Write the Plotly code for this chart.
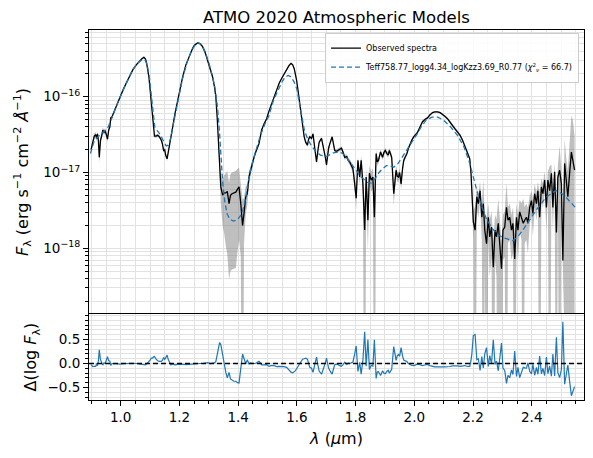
import numpy as np
import plotly.graph_objects as go

# ---------------- data ----------------
wl_obs = [0.899, 0.905, 0.910, 0.915, 0.918, 0.921, 0.924, 0.927, 0.931, 0.935,
          0.939, 0.943, 0.947, 0.951, 0.955, 0.959, 0.963, 0.966, 0.970, 0.975,
          0.980, 0.988, 0.997, 1.008, 1.019, 1.030, 1.042, 1.053, 1.064, 1.072,
          1.079, 1.084, 1.088, 1.092, 1.096, 1.100, 1.104, 1.108, 1.112, 1.115,
          1.120, 1.126, 1.132, 1.138, 1.142, 1.146, 1.150, 1.153, 1.158, 1.162,
          1.166, 1.171, 1.177, 1.185, 1.194, 1.202, 1.211, 1.222, 1.234, 1.245,
          1.251, 1.257, 1.262, 1.270, 1.279, 1.288, 1.296, 1.305, 1.313, 1.319,
          1.324, 1.329, 1.333, 1.337, 1.341, 1.347, 1.352, 1.358, 1.363, 1.369,
          1.374, 1.379, 1.385, 1.392, 1.398, 1.403, 1.409, 1.415, 1.420, 1.426,
          1.431, 1.437, 1.442, 1.448, 1.454, 1.460, 1.465, 1.471, 1.476, 1.480,
          1.488, 1.497, 1.505, 1.514, 1.522, 1.531, 1.540, 1.548, 1.556, 1.565,
          1.573, 1.580, 1.586, 1.591, 1.595, 1.599, 1.604, 1.608, 1.612, 1.616,
          1.620, 1.625, 1.630, 1.636, 1.640, 1.644, 1.650, 1.655, 1.661, 1.667,
          1.672, 1.676, 1.684, 1.689, 1.693, 1.697, 1.701, 1.705, 1.708, 1.714,
          1.720, 1.725, 1.729, 1.735, 1.740, 1.746, 1.752, 1.758, 1.763, 1.770,
          1.775, 1.780, 1.786, 1.791, 1.797, 1.802, 1.808, 1.814, 1.819, 1.825,
          1.831, 1.836, 1.842, 1.847, 1.853, 1.859, 1.864, 1.870, 1.874, 1.878,
          1.885, 1.892, 1.896, 1.901, 1.907, 1.911, 1.915, 1.919, 1.923, 1.930,
          1.934, 1.938, 1.942, 1.946, 1.950, 1.955, 1.960, 1.964, 1.970, 1.975,
          1.980, 1.986, 1.992, 1.998, 2.005, 2.011, 2.017, 2.023, 2.028, 2.036,
          2.045, 2.053, 2.062, 2.070, 2.079, 2.088, 2.096, 2.105, 2.113, 2.122,
          2.130, 2.138, 2.147, 2.156, 2.164, 2.172, 2.181, 2.189, 2.193, 2.196,
          2.201, 2.207, 2.213, 2.218, 2.224, 2.230, 2.235, 2.240, 2.246, 2.252,
          2.257, 2.263, 2.269, 2.275, 2.280, 2.286, 2.291, 2.297, 2.302, 2.308,
          2.314, 2.319, 2.325, 2.331, 2.336, 2.342, 2.348, 2.353, 2.359, 2.365,
          2.371, 2.376, 2.382, 2.387, 2.393, 2.399, 2.404, 2.410, 2.416, 2.421,
          2.427, 2.433, 2.438, 2.444, 2.450, 2.455, 2.461, 2.467, 2.472, 2.478,
          2.484, 2.489, 2.495, 2.501, 2.506, 2.512, 2.518, 2.523, 2.529, 2.535,
          2.540, 2.546]

logf_obs = [-16.70, -16.58, -16.52, -16.50, -16.55, -16.49, -16.58, -16.80, -16.58, -16.52,
            -16.44, -16.47, -16.45, -16.50, -16.56, -16.44, -16.40, -16.28, -16.27, -16.22,
            -16.17, -16.09, -16.00, -15.91, -15.82, -15.73, -15.64, -15.58, -15.53, -15.50,
            -15.48, -15.50, -15.55, -15.63, -15.74, -15.90, -16.09, -16.27, -16.44, -16.52,
            -16.52, -16.51, -16.53, -16.57, -16.62, -16.71, -16.70, -16.77, -16.82, -16.72,
            -16.62, -16.50, -16.40, -16.22, -16.05, -15.90, -15.74, -15.58, -15.45, -15.36,
            -15.32, -15.30, -15.29, -15.30, -15.34, -15.42, -15.52, -15.62, -15.74, -15.86,
            -16.00, -16.30, -16.66, -16.95, -17.19, -17.30, -17.27, -17.27, -17.25, -17.41,
            -17.30, -17.28, -17.27, -17.26, -17.22, -17.19, -17.41, -17.70, -17.54, -17.32,
            -17.28, -17.06, -16.98, -16.88, -16.80, -16.73, -16.68, -16.62, -16.52, -16.44,
            -16.36, -16.29, -16.19, -16.09, -15.99, -15.89, -15.82, -15.76, -15.70, -15.65,
            -15.59, -15.56, -15.58, -15.63, -15.70, -15.78, -15.92, -16.05, -16.18, -16.31,
            -16.43, -16.53, -16.60, -16.64, -16.56, -16.53, -16.55, -16.49, -16.68, -16.86,
            -16.70, -16.60, -16.55, -16.63, -16.71, -16.80, -16.90, -16.75, -16.68, -16.60,
            -16.53, -16.63, -16.71, -16.72, -16.71, -16.69, -16.68, -16.74, -16.80, -16.79,
            -16.84, -16.86, -16.91, -16.95, -17.15, -17.34, -16.84, -17.06, -16.84, -17.15,
            -17.76, -17.06, -17.63, -17.01, -17.10, -17.06, -17.59, -16.75, -16.86, -16.84,
            -16.73, -16.80, -16.74, -16.71, -16.75, -16.77, -16.71, -16.75, -16.80, -17.28,
            -17.10, -16.97, -17.05, -17.06, -17.00, -17.15, -16.95, -16.84, -16.79, -16.75,
            -16.68, -16.62, -16.57, -16.53, -16.50, -16.47, -16.42, -16.36, -16.33, -16.30,
            -16.28, -16.24, -16.21, -16.20, -16.20, -16.21, -16.23, -16.26, -16.29, -16.33,
            -16.38, -16.42, -16.46, -16.51, -16.57, -16.65, -16.73, -16.82, -17.00, -17.19,
            -17.65, -17.76, -17.32, -17.41, -17.24, -17.59, -17.41, -17.76, -17.94, -17.59,
            -17.85, -17.72, -18.25, -17.76, -17.85, -17.67, -17.94, -18.27, -17.76, -17.72,
            -17.46, -17.63, -17.59, -17.76, -17.67, -18.14, -17.59, -17.76, -17.52, -17.59,
            -17.67, -17.63, -17.59, -17.67, -17.46, -17.37, -17.54, -17.28, -17.41, -17.24,
            -17.59, -17.19, -17.28, -17.10, -17.46, -17.10, -17.24, -17.01, -17.46, -16.99,
            -17.79, -17.06, -16.97, -17.15, -18.16, -16.88, -17.15, -17.32, -17.01, -16.73,
            -16.84, -16.97]

err_frac = [0.08, 0.08, 0.08, 0.08, 0.08, 0.08, 0.10, 0.15, 0.10, 0.08,
            0.08, 0.08, 0.08, 0.08, 0.08, 0.08, 0.06, 0.05, 0.05, 0.05,
            0.04, 0.04, 0.03, 0.03, 0.03, 0.03, 0.03, 0.03, 0.03, 0.03,
            0.03, 0.03, 0.03, 0.03, 0.03, 0.03, 0.04, 0.04, 0.05, 0.05,
            0.05, 0.05, 0.05, 0.05, 0.05, 0.06, 0.06, 0.06, 0.06, 0.05,
            0.05, 0.04, 0.04, 0.03, 0.03, 0.03, 0.03, 0.03, 0.03, 0.03,
            0.03, 0.03, 0.03, 0.03, 0.03, 0.03, 0.03, 0.03, 0.03, 0.03,
            0.04, 0.05, 0.10, 0.20, 0.40, 0.60, 0.70, 0.80, 0.85, 0.90,
            0.90, 0.90, 0.90, 0.90, 0.85, 0.80, 0.80, 1.20, 0.60, 0.40,
            0.30, 0.20, 0.15, 0.10, 0.08, 0.06, 0.05, 0.05, 0.04, 0.04,
            0.04, 0.04, 0.03, 0.03, 0.03, 0.03, 0.03, 0.03, 0.03, 0.03,
            0.03, 0.03, 0.03, 0.03, 0.03, 0.03, 0.03, 0.03, 0.03, 0.04,
            0.04, 0.05, 0.05, 0.05, 0.05, 0.05, 0.05, 0.05, 0.06, 0.07,
            0.06, 0.05, 0.05, 0.05, 0.06, 0.07, 0.08, 0.06, 0.06, 0.05,
            0.05, 0.06, 0.06, 0.06, 0.06, 0.06, 0.06, 0.07, 0.07, 0.07,
            0.08, 0.08, 0.10, 0.12, 0.20, 0.30, 0.10, 0.20, 0.15, 0.30,
            1.20, 0.30, 0.60, 0.25, 0.30, 0.30, 1.20, 0.12, 0.12, 0.10,
            0.08, 0.08, 0.08, 0.08, 0.08, 0.08, 0.08, 0.08, 0.10, 0.30,
            0.20, 0.15, 0.15, 0.15, 0.12, 0.15, 0.10, 0.08, 0.06, 0.06,
            0.05, 0.05, 0.05, 0.04, 0.04, 0.04, 0.04, 0.04, 0.04, 0.03,
            0.03, 0.03, 0.03, 0.03, 0.03, 0.03, 0.03, 0.03, 0.03, 0.03,
            0.03, 0.04, 0.04, 0.04, 0.04, 0.05, 0.05, 0.06, 0.10, 0.20,
            0.40, 1.10, 0.30, 0.35, 0.30, 0.50, 1.10, 0.60, 1.20, 0.50,
            0.70, 0.60, 1.20, 0.60, 0.70, 1.10, 1.20, 1.30, 0.60, 0.60,
            1.10, 0.50, 0.50, 0.60, 0.60, 1.20, 0.50, 0.60, 0.45, 0.50,
            1.10, 0.50, 0.50, 0.60, 0.40, 0.35, 0.50, 0.35, 0.40, 0.30,
            1.10, 0.30, 0.35, 0.30, 0.50, 0.30, 1.10, 0.30, 0.50, 0.30,
            1.20, 0.40, 1.10, 0.50, 1.30, 1.10, 1.10, 1.20, 1.50, 2.00,
            2.40, 1.80]

wl_mod = [0.897, 0.910, 0.925, 0.940, 0.955, 0.965, 0.975, 0.990, 1.005, 1.020,
          1.040, 1.055, 1.070, 1.082, 1.090, 1.097, 1.104, 1.110, 1.116, 1.125,
          1.135, 1.145, 1.155, 1.162, 1.170, 1.180, 1.190, 1.200, 1.210, 1.225,
          1.240, 1.255, 1.265, 1.275, 1.287, 1.300, 1.312, 1.322, 1.330, 1.336,
          1.341, 1.347, 1.355, 1.363, 1.372, 1.385, 1.398, 1.410, 1.418, 1.425,
          1.432, 1.440, 1.450, 1.462, 1.475, 1.490, 1.505, 1.520, 1.535, 1.550,
          1.560, 1.571, 1.580, 1.590, 1.600, 1.610, 1.618, 1.626, 1.638, 1.650,
          1.662, 1.680, 1.700, 1.712, 1.725, 1.740, 1.752, 1.765, 1.780, 1.797,
          1.819, 1.840, 1.853, 1.865, 1.880, 1.892, 1.905, 1.915, 1.930, 1.945,
          1.960, 1.975, 1.994, 2.010, 2.023, 2.040, 2.060, 2.080, 2.100, 2.124,
          2.147, 2.169, 2.189, 2.203, 2.220, 2.243, 2.265, 2.288, 2.311, 2.336,
          2.356, 2.373, 2.395, 2.418, 2.446, 2.468, 2.483, 2.503, 2.520, 2.535,
          2.548]

logf_mod = [-16.75, -16.58, -16.52, -16.47, -16.42, -16.33, -16.22, -16.08, -15.94, -15.81,
            -15.65, -15.57, -15.52, -15.51, -15.58, -15.72, -15.98, -16.25, -16.40, -16.45,
            -16.50, -16.58, -16.65, -16.64, -16.55, -16.35, -16.15, -15.95, -15.77, -15.56,
            -15.40, -15.31, -15.29, -15.31, -15.40, -15.55, -15.72, -15.90, -16.15, -16.44,
            -16.80, -17.12, -17.40, -17.55, -17.62, -17.64, -17.62, -17.56, -17.47, -17.35,
            -17.18, -17.00, -16.85, -16.70, -16.52, -16.37, -16.25, -16.05, -15.92, -15.80,
            -15.74, -15.72, -15.74, -15.80, -15.90, -16.12, -16.30, -16.45, -16.57, -16.65,
            -16.71, -16.77, -16.79, -16.77, -16.74, -16.73, -16.74, -16.78, -16.86, -16.95,
            -17.06, -17.13, -17.14, -17.09, -17.00, -16.95, -16.91, -16.91, -16.93, -16.88,
            -16.79, -16.71, -16.60, -16.49, -16.40, -16.31, -16.27, -16.27, -16.31, -16.40,
            -16.51, -16.66, -16.88, -17.10, -17.34, -17.59, -17.74, -17.83, -17.87, -17.90,
            -17.83, -17.74, -17.61, -17.48, -17.34, -17.27, -17.24, -17.28, -17.34, -17.40,
            -17.46]

x_ticks = [1.0, 1.2, 1.4, 1.6, 1.8, 2.0, 2.2, 2.4]
model_name = "Teff758.77_logg4.34_logKzz3.69_R0.77"
chi2 = 66.7

# ---------------- derived ----------------
lo = np.array(logf_obs)
f_obs = 10 ** lo
f_mod = 10 ** np.array(logf_mod)
err = f_obs * np.array(err_frac)
lower = np.clip(f_obs - err, 1e-22, None)
upper = f_obs + err
resid = np.interp(wl_obs, wl_mod, logf_mod) - lo

# ---------------- figure ----------------
grid_c = "#e2e2e2"
blue = "#1f77b4"

fig = go.Figure()
fig.add_trace(go.Scatter(x=wl_obs, y=lower, mode="lines", line=dict(width=0),
                         showlegend=False, hoverinfo="skip", xaxis="x", yaxis="y"))
fig.add_trace(go.Scatter(x=wl_obs, y=upper, mode="lines", line=dict(width=0),
                         fill="tonexty", fillcolor="rgba(128,128,128,0.5)",
                         showlegend=False, hoverinfo="skip", xaxis="x", yaxis="y"))
fig.add_trace(go.Scatter(x=wl_obs, y=f_obs, mode="lines", name="Observed spectra",
                         line=dict(color="black", width=1.3), xaxis="x", yaxis="y"))
fig.add_trace(go.Scatter(x=wl_mod, y=f_mod, mode="lines",
                         name=f"{model_name} (<i>χ</i><sup>2</sup><sub><i>ν</i></sub> = {chi2})",
                         line=dict(color=blue, width=1.3, dash="5px,3px"), xaxis="x", yaxis="y"))
fig.add_trace(go.Scatter(x=wl_obs, y=resid, mode="lines", showlegend=False,
                         line=dict(color=blue, width=1.2), xaxis="x2", yaxis="y2"))

fig.add_shape(type="line", xref="x2 domain", yref="y2", x0=0, x1=1, y0=0, y1=0,
              line=dict(color="black", width=1.3, dash="5px,3px"))

axis_common = dict(showline=True, linecolor="black", linewidth=1, mirror=True,
                   ticks="outside", tickcolor="black", ticklen=5, tickwidth=1,
                   showgrid=True, gridcolor=grid_c, gridwidth=1, zeroline=False)

split = 86 / 370
log_minor = [m * 10.0 ** e for e in range(-19, -15) for m in range(2, 10)]

fig.update_layout(
    width=593, height=458,
    margin=dict(l=88.5, r=9, t=30, b=58),
    plot_bgcolor="white", paper_bgcolor="white",
    font=dict(family="DejaVu Sans", color="black", size=13.5),
    title=dict(text="ATMO 2020 Atmospheric Models", xref="paper", x=0.5, xanchor="center",
               yref="container", y=1 - 17 / 458, yanchor="middle",
               font=dict(size=16.5, family="DejaVu Sans")),
    xaxis=dict(axis_common, domain=[0, 1], anchor="y", range=[0.892, 2.578],
               side="top", mirror=False,
               tickmode="array", tickvals=x_ticks, showticklabels=False, ticks="",
               minor=dict(dtick=0.05, tick0=0.0, showgrid=True, gridcolor=grid_c, ticks=""),
               matches="x2"),
    yaxis=dict(axis_common, type="log", domain=[split, 1], anchor="x",
               range=[-18.867, -15.12],
               tickmode="array", tickvals=[1e-18, 1e-17, 1e-16],
               ticktext=["10<sup>−18</sup>", "10<sup>−17</sup>", "10<sup>−16</sup>"],
               minor=dict(tickmode="array", tickvals=log_minor, ticks="outside", ticklen=3,
                          tickcolor="black", showgrid=True, gridcolor=grid_c),
               title=dict(text="<i>F</i><sub>λ</sub> (erg s<sup>−1</sup> cm<sup>−2</sup> <i>Å</i><sup>−1</sup>)",
                          font=dict(size=16), standoff=10)),
    xaxis2=dict(axis_common, domain=[0, 1], anchor="y2", range=[0.892, 2.578],
                tickmode="array", tickvals=x_ticks, tickformat=".1f",
                minor=dict(dtick=0.05, tick0=0.0, ticks="outside", ticklen=3, tickcolor="black",
                           showgrid=True, gridcolor=grid_c),
                title=dict(text="<i>λ</i> (<i>μ</i>m)", font=dict(size=16), standoff=8)),
    yaxis2=dict(axis_common, domain=[0, split], anchor="x2", range=[-0.76, 1.03],
                tickmode="array", tickvals=[-0.5, 0.0, 0.5], ticktext=["−0.5", "0.0", "0.5"],
                minor=dict(dtick=0.1, tick0=0.0, ticks="outside", ticklen=3, tickcolor="black",
                           showgrid=True, gridcolor=grid_c),
                title=dict(text="Δ(log <i>F</i><sub>λ</sub>)", font=dict(size=16), standoff=6)),
    legend=dict(x=0.99, y=0.993, xanchor="right", yanchor="top", traceorder="normal",
                font=dict(size=8, family="DejaVu Sans"),
                bgcolor="rgba(255,255,255,0.85)", bordercolor="#cccccc", borderwidth=1,
                tracegroupgap=0, itemwidth=30),
    showlegend=True,
)

fig.write_html("out.html")
